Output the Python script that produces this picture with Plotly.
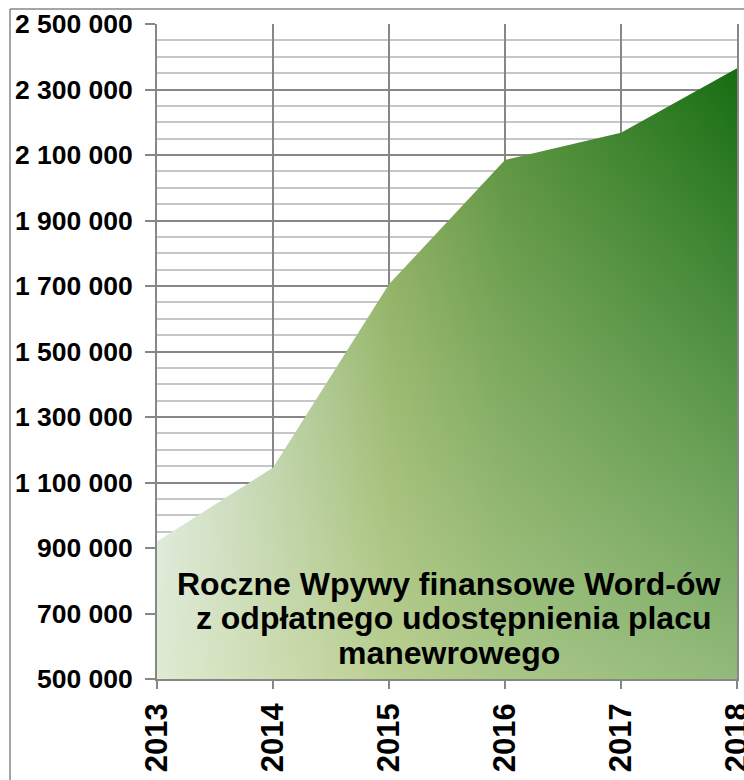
import plotly.graph_objects as go

# ---- data ----
years = [2013, 2014, 2015, 2016, 2017, 2018]
values = [920000, 1145000, 1705000, 2085000, 2168000, 2365000]
year_labels = ["2013", "2014", "2015", "2016", "2017", "2018"]
y_tick_vals = [500000, 700000, 900000, 1100000, 1300000, 1500000,
               1700000, 1900000, 2100000, 2300000, 2500000]
y_tick_text = ["500 000", "700 000", "900 000", "1 100 000", "1 300 000",
               "1 500 000", "1 700 000", "1 900 000", "2 100 000",
               "2 300 000", "2 500 000"]
title_lines = ["Roczne Wpywy finansowe Word-ów",
               " z odpłatnego udostępnienia placu",
               "manewrowego"]

FONT = "Liberation Sans, Arial, sans-serif"
GRID = "#878787"

fig = go.Figure()

# base horizontal gradient
fig.add_trace(go.Scatter(
    x=years, y=values, mode="lines", line=dict(width=0),
    fill="tozeroy",
    fillgradient=dict(type="horizontal", start=2013, stop=2018,
                      colorscale=[[0, "rgb(225,236,250)"],
                                  [0.4, "rgb(127,165,81)"],
                                  [0.6, "rgb(83,142,56)"],
                                  [1, "rgb(22,109,18)"]]),
    hoverinfo="skip", showlegend=False))

# vertical light overlay -> diagonal look
fig.add_trace(go.Scatter(
    x=years, y=values, mode="lines", line=dict(width=0),
    fill="tozeroy",
    fillgradient=dict(type="vertical", start=500000, stop=2365000,
                      colorscale=[[0, "rgba(222,233,185,0.62)"],
                                  [1, "rgba(222,233,185,0)"]]),
    hoverinfo="skip", showlegend=False))

title_y = [791000, 685000, 580000]
for txt, yy in zip(title_lines, title_y):
    fig.add_annotation(x=2015.52, y=yy, xref="x", yref="y", text=txt,
                       showarrow=False, xanchor="center", yanchor="middle",
                       font=dict(family=FONT, size=32, color="black",
                                 weight="bold"))

fig.update_xaxes(
    range=[2013, 2018], tickvals=years, ticktext=year_labels,
    tickangle=-90, ticks="outside", ticklen=8, tickcolor=GRID,
    tickwidth=1.5, showgrid=True, gridcolor=GRID, gridwidth=1.8,
    showline=True, linecolor=GRID, linewidth=1.8,
    tickfont=dict(family=FONT, size=31, color="black", weight="bold"),
    ticklabelstandoff=2, zeroline=False, automargin=False,
    ticklabeloverflow="allow")

fig.update_yaxes(
    range=[500000, 2500000], tickvals=y_tick_vals, ticktext=y_tick_text,
    ticks="outside", ticklen=10, tickcolor=GRID, tickwidth=1.5,
    showgrid=True, gridcolor=GRID, gridwidth=1.8,
    minor=dict(dtick=50000, showgrid=True, gridcolor="#c6c6c6",
               gridwidth=1.8, ticks=""),
    showline=True, mirror=True, linecolor=GRID, linewidth=1.8,
    tickfont=dict(family=FONT, size=26.5, color="black", weight="bold"),
    ticklabelstandoff=7, zeroline=False, automargin=False,
    ticklabeloverflow="allow")

# outer chart frame (partially visible: top and left edges)
fig.add_shape(type="line", xref="paper", yref="paper",
              x0=-0.2534, x1=1.2, y0=1.0229, y1=1.0229,
              line=dict(color=GRID, width=1.5), layer="above")
fig.add_shape(type="line", xref="paper", yref="paper",
              x0=-0.2534, x1=-0.2534, y0=-0.3, y1=1.0229,
              line=dict(color=GRID, width=1.5), layer="above")

fig.update_layout(
    width=744, height=780,
    margin=dict(l=157, r=7, t=24, b=101, autoexpand=False),
    paper_bgcolor="white", plot_bgcolor="white",
    showlegend=False)

fig.write_html("out.html",
               config={"displayModeBar": False},
               post_script="document.body.style.margin='0';"
                           "document.body.style.overflow='hidden';")
